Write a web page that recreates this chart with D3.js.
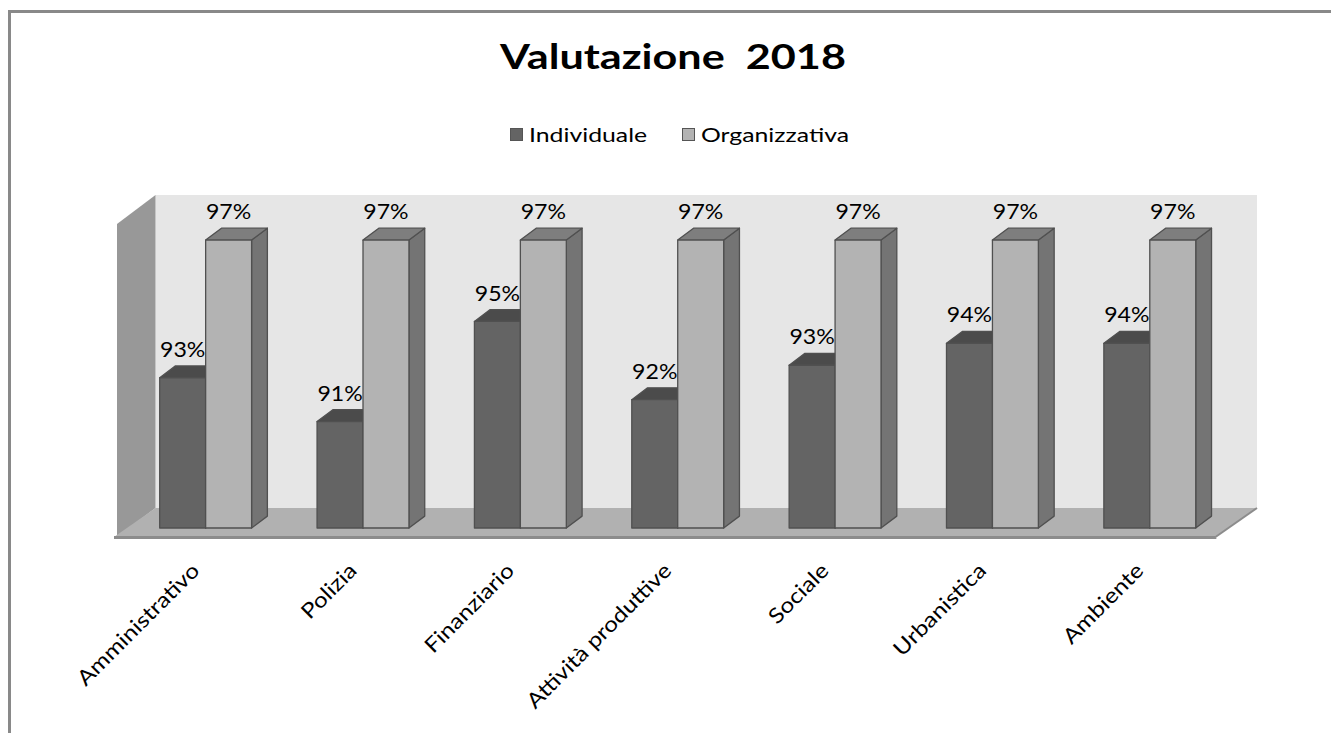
<!DOCTYPE html>
<html>
<head>
<meta charset="utf-8">
<script src="https://cdn.jsdelivr.net/npm/d3@7"></script>
<style>
  body { margin: 0; background: #fff; }
  svg { display: block; font-family: Lato, "Open Sans", sans-serif; }
</style>
</head>
<body>
<svg id="chart" width="1331" height="733"></svg>
<script>
"use strict";

const categories = ["Amministrativo", "Polizia", "Finanziario", "Attività produttive", "Sociale", "Urbanistica", "Ambiente"];
const seriesNames = ["Individuale", "Organizzativa"];
const individuale = [0.928, 0.914, 0.946, 0.921, 0.932, 0.939, 0.939];
const organizzativa = [0.972, 0.972, 0.972, 0.972, 0.972, 0.972, 0.972];
const yDomain = [0.88, 0.98];

const colors = {
  Individuale: { front: "#646464", top: "#4b4b4b", side: "#4b4b4b" },
  Organizzativa: { front: "#b3b3b3", top: "#7e7e7e", side: "#747474" }
};

// front plane of the 3d box, and the oblique depth offset
const FL = 117, FR = 1218.5, FB = 537, FT = 224;
const DX = 38.5, DY = 29;
const Z0 = 0.31, Z1 = 0.72;

const svg = d3.select("#chart");
const p = (x, y, z) => [x + z * DX, y - z * DY];
const poly = (pts) => pts.map((d) => d.join(",")).join(" ");

svg.append("rect")
  .attr("x", 9.5).attr("y", 11.5)
  .attr("width", 1340).attr("height", 740)
  .attr("fill", "none").attr("stroke", "#898989").attr("stroke-width", 3);

svg.append("text")
  .attr("transform", "translate(673,69) scale(1.27,1)")
  .attr("text-anchor", "middle")
  .attr("font-size", 34).attr("font-weight", "bold")
  .style("white-space", "pre")
  .text("Valutazione  2018");

// legend
const legend = svg.append("g");
const legendX = [510, 682];
seriesNames.forEach((s, i) => {
  legend.append("rect")
    .attr("x", legendX[i] + 0.5).attr("y", 128.5)
    .attr("width", 12).attr("height", 12)
    .attr("fill", colors[s].front).attr("stroke", "#555");
  legend.append("text")
    .attr("transform", `translate(${legendX[i] + 19},142) scale(1.24,1)`)
    .attr("font-size", 20)
    .text(s);
});

const x0 = d3.scaleBand()
  .domain(categories)
  .range([FL, FR])
  .paddingInner(0.416)
  .paddingOuter(0.208)
  .align(0.47);

const x1 = d3.scaleBand()
  .domain(seriesNames)
  .range([0, x0.bandwidth()]);

const y = d3.scaleLinear().domain(yDomain).range([FB, FT]);

// walls and floor
const yMin = y(yDomain[0]), yMax = y(yDomain[1]);
svg.append("polygon")
  .attr("points", poly([p(FL, yMin, 1), p(FL, yMax, 1), p(FR, yMax, 1), p(FR, yMin, 1)]))
  .attr("fill", "#e6e6e6");
svg.append("polygon")
  .attr("points", poly([p(FL, yMin, 0), p(FL, yMax, 0), p(FL, yMax, 1), p(FL, yMin, 1)]))
  .attr("fill", "#989898");
svg.append("polygon")
  .attr("points", poly([p(FL - 3, yMin, 0), p(FL, yMin, 1), p(FR, yMin, 1), p(FR - 3, yMin, 0)]))
  .attr("fill", "#b1b1b1");
svg.append("polygon")
  .attr("points", poly([p(FL - 3, yMin - 1, 0), p(FR - 3, yMin - 1, 0), p(FR - 2, yMin + 2, 0), p(FL - 3, yMin + 2, 0)]))
  .attr("fill", "#8c8c8c");
svg.append("polyline")
  .attr("points", poly([p(FR - 3, yMin, 0), p(FR, yMin, 1)]))
  .attr("fill", "none").attr("stroke", "#8c8c8c").attr("stroke-width", 2);

// bars
const rows = [];
categories.forEach((c, i) => {
  rows.push({ cat: c, series: "Individuale", value: individuale[i] });
  rows.push({ cat: c, series: "Organizzativa", value: organizzativa[i] });
});

svg.append("g")
  .selectAll("g")
  .data(rows)
  .join("g")
  .each(function (d) {
    const g = d3.select(this);
    const xl = x0(d.cat) + x1(d.series);
    const xr = xl + x1.bandwidth();
    const yt = y(d.value), yb = y(yDomain[0]);
    const c = colors[d.series];
    g.append("polygon")
      .attr("points", poly([p(xr, yt, Z0), p(xr, yb, Z0), p(xr, yb, Z1), p(xr, yt, Z1)]))
      .attr("fill", c.side);
    g.append("polygon")
      .attr("points", poly([p(xl, yt, Z0), p(xr, yt, Z0), p(xr, yt, Z1), p(xl, yt, Z1)]))
      .attr("fill", c.top);
    g.append("polygon")
      .attr("points", poly([p(xl, yt, Z0), p(xr, yt, Z0), p(xr, yb, Z0), p(xl, yb, Z0)]))
      .attr("fill", c.front);
    g.selectAll("polygon")
      .attr("stroke", "#505050").attr("stroke-width", 1.3).attr("stroke-linejoin", "round");
  });

// data labels
const fmt = d3.format(".0%");
svg.append("g")
  .selectAll("text")
  .data(rows)
  .join("text")
  .attr("transform", (d) => {
    const lx = p(x0(d.cat) + x1(d.series) + x1.bandwidth() / 2, 0, Z0)[0];
    const ly = p(0, y(d.value), Z1)[1] - 9;
    return `translate(${lx},${ly}) scale(1.1,1)`;
  })
  .attr("text-anchor", "middle")
  .attr("font-size", 21)
  .text((d) => fmt(d.value));

// category axis
const axis = svg.append("g")
  .attr("transform", "translate(7,572)")
  .call(d3.axisBottom(x0).tickSize(0));
axis.select(".domain").remove();
axis.selectAll("text")
  .attr("x", 0).attr("y", 0).attr("dy", 0)
  .attr("transform", "rotate(-45) scale(1.16,1)")
  .attr("text-anchor", "end")
  .attr("font-family", "Lato, sans-serif")
  .attr("font-size", 21)
  .attr("fill", "#000");
</script>
</body>
</html>
